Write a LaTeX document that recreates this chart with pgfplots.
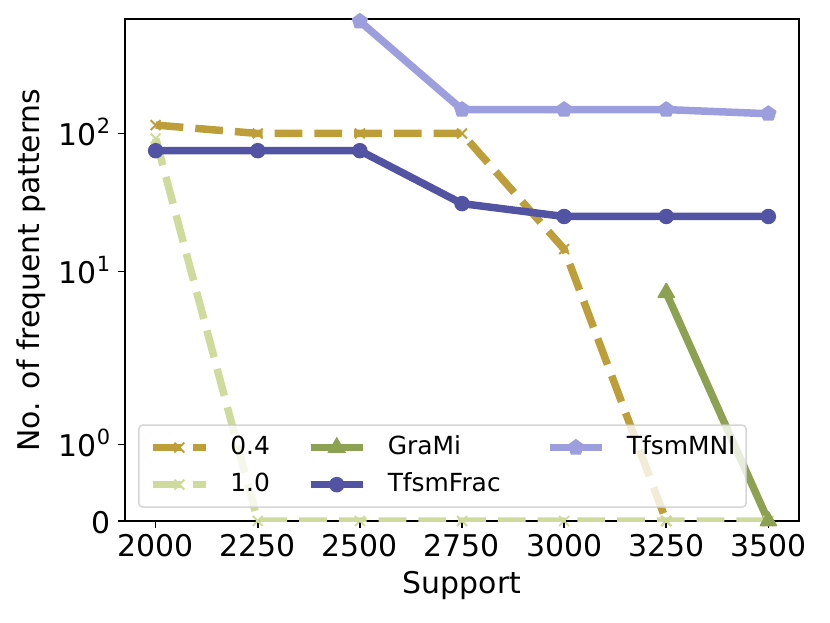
\documentclass[border=0pt]{standalone}
\usepackage{fontspec}
\setmainfont{DejaVu Sans}
\usepackage{pgfplots}
\pgfplotsset{compat=1.18}
\usetikzlibrary{plotmarks}
\definecolor{c04}{HTML}{BD9E39}
\definecolor{c10}{HTML}{CEDB9C}
\definecolor{cgrami}{HTML}{8CA252}
\definecolor{cfrac}{HTML}{5254A3}
\definecolor{cmni}{HTML}{9C9EDE}
\definecolor{legedge}{HTML}{CCCCCC}
\newcommand{\tenpow}[1]{10\raisebox{12bp}{\fontsize{21}{21}\selectfont #1}}
\newcommand{\pre}{\rule{21bp}{0pt}}
\newcommand{\postA}{\rule{36.8bp}{0pt}}
\newcommand{\postB}{\rule{45.2bp}{0pt}}
\begin{document}
\begin{tikzpicture}
\useasboundingbox (-125bp,-102bp) rectangle (705bp,521bp);
\begin{axis}[
  at={(0,0)}, anchor=south west,
  scale only axis, width=674bp, height=502bp,
  xmin=1925, xmax=3575, ymin=0, ymax=7.28,
  y filter/.expression={ifthenelse(y>2, 2*(1.11111+ln(max(y,2)/2)/2.302585), 1.11111*y)},
  xtick={2000,2250,2500,2750,3000,3250,3500},
  xticklabels={2000,2250,2500,2750,3000,3250,3500},
  ytick={0,1.11111,3.62014,5.62014},
  yticklabels={0,\tenpow{0},\tenpow{1},\tenpow{2}},
  tick align=outside, xtick pos=bottom, ytick pos=left,
  major tick length=6.56bp,
  every tick/.style={black, line width=1.5bp},
  axis line style={line width=1.5bp},
  xticklabel style={font=\fontsize{30}{36}\selectfont, anchor=north, inner sep=0pt, yshift=-7bp},
  yticklabel style={font=\fontsize{30}{36}\selectfont, anchor=base east, inner sep=0pt, xshift=-8bp, yshift=-12.5bp},
  xlabel={Support},
  ylabel={No. of frequent patterns},
  xlabel style={font=\fontsize{30}{36}\selectfont, at={(axis description cs:0.5,-0.144)}, anchor=base, inner sep=0pt},
  ylabel style={font=\fontsize{30}{36}\selectfont, at={(axis description cs:-0.117,0.5)}, anchor=south, inner sep=0pt},
  legend columns=3,
  legend cell align=left,
  legend style={
    at={(axis description cs:0.01944,0.0261)}, anchor=south west,
    font=\fontsize{25}{30}\selectfont,
    draw=legedge, draw opacity=0.8, line width=1.5bp, rounded corners=4bp,
    fill=white, fill opacity=0.8, text opacity=1,
    inner xsep=10.5bp, inner ysep=10.5bp,
    nodes={inner sep=0pt, text height=19bp, text depth=5bp},
    column sep=0pt,
    row sep=13.1bp,
  },
  legend image code/.code={\draw[mark repeat=2,mark phase=2,fill opacity=1,draw opacity=1,#1] plot coordinates {(0bp,0bp) (26.25bp,0bp) (52.5bp,0bp)};},
]
% 0.4
\addplot[c04, line width=7.5bp, dash pattern=on 27.75bp off 12bp, mark=x, mark size=7bp,
  mark options={solid, line width=1.875bp}, forget plot]
  coordinates {(2000,115) (2250,100) (2500,100) (2750,100) (3000,14.5) (3250,0)};
% 1.0
\addplot[c10, line width=7.5bp, dash pattern=on 27.75bp off 12bp, mark=x, mark size=7bp,
  mark options={solid, line width=1.875bp}, forget plot]
  coordinates {(2000,92) (2250,0) (2500,0) (2750,0) (3000,0) (3250,0) (3500,0)};
% GraMi
\addplot[cgrami, line width=7.5bp, line join=round, mark=triangle*, mark size=9bp,
  mark options={solid, line width=1.875bp}, forget plot]
  coordinates {(3250,7) (3500,0)};
% TfsmFrac
\addplot[cfrac, line width=7.5bp, line join=round, mark=*, mark size=6.8bp,
  mark options={solid, line width=1.875bp}, forget plot]
  coordinates {(2000,75) (2250,75) (2500,75) (2750,31) (3000,25) (3250,25) (3500,25)};
% TfsmMNI
\addplot[cmni, line width=7.5bp, line join=round, mark=pentagon*, mark size=7.5bp,
  mark options={solid, line width=1.875bp}, forget plot]
  coordinates {(2500,650) (2750,149) (3000,149) (3250,149) (3500,139)};

\addlegendimage{c04, line width=7.5bp, dash pattern=on 27.75bp off 12bp, mark=x, mark size=7bp, mark options={solid, line width=1.875bp}}
\addlegendimage{cgrami, line width=7.5bp, mark=triangle*, mark size=9bp, mark options={solid, line width=1.875bp}}
\addlegendimage{cmni, line width=7.5bp, mark=pentagon*, mark size=7.5bp, mark options={solid, line width=1.875bp}}
\addlegendimage{c10, line width=7.5bp, dash pattern=on 27.75bp off 12bp, mark=x, mark size=7bp, mark options={solid, line width=1.875bp}}
\addlegendimage{cfrac, line width=7.5bp, mark=*, mark size=6.8bp, mark options={solid, line width=1.875bp}}
\legend{\pre 0.4\postA,\pre GraMi\postB,\pre TfsmMNI,\pre 1.0\postA,\pre TfsmFrac\postB}
\end{axis}
\end{tikzpicture}
\end{document}
